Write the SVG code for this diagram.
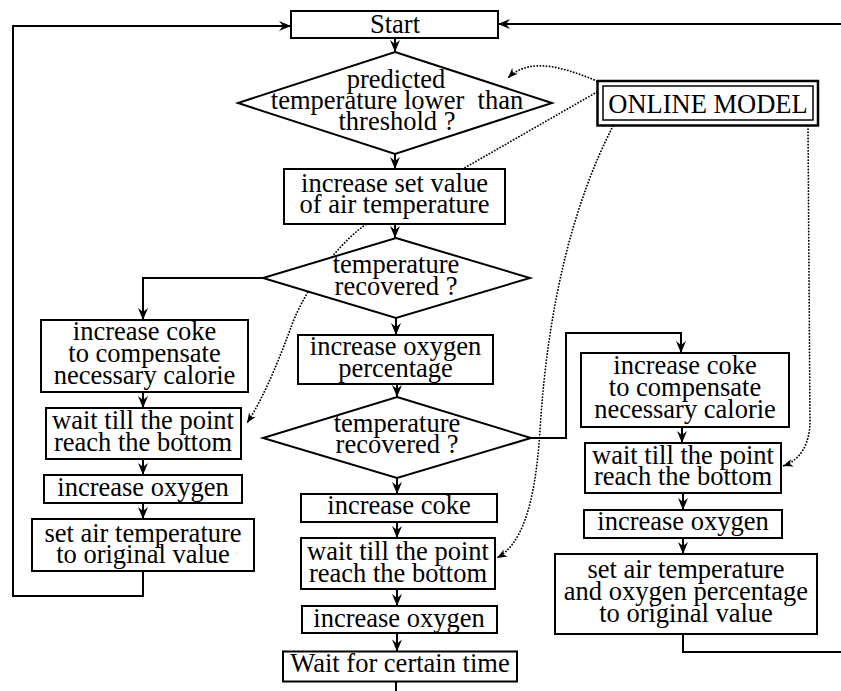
<svg xmlns="http://www.w3.org/2000/svg" width="841" height="691" viewBox="0 0 841 691">
<style>
.n{fill:#fff;stroke:#000;stroke-width:2}
.t{font-family:"Liberation Serif","Times New Roman",serif;font-size:26.5px;text-anchor:middle;fill:#000}
.c{fill:none;stroke:#000;stroke-width:2}
.d{fill:none;stroke:#000;stroke-width:1.8;stroke-dasharray:0.1 3;stroke-linecap:round}
</style>
<defs>
<marker id="a" markerUnits="userSpaceOnUse" markerWidth="13" markerHeight="11" refX="12" refY="5" orient="auto" overflow="visible">
<path d="M0,0 L12,5 L0,10 L4,5 z" fill="#000"/>
</marker>
<marker id="ad" markerUnits="userSpaceOnUse" markerWidth="11" markerHeight="9" refX="10" refY="4" orient="auto" overflow="visible">
<path d="M0,0 L10,4 L0,8 L3,4 z" fill="#000"/>
</marker>
</defs>
<g id="dotted-connectors">
<path class="d" d="M597,81 C565,68 530,56 508,78" marker-end="url(#ad)"/>
<path class="d" d="M597,92 L365,225 C330,250 300,300 290,330 C275,370 262,400 247,423" marker-end="url(#ad)"/>
<path class="d" d="M613,126 C575,200 548,300 540,430 C535,510 520,545 497,558" marker-end="url(#ad)"/>
<path class="d" d="M808,126 L810,420 C810,445 800,460 783,466" marker-end="url(#ad)"/>
</g>
<g id="connectors">
<path class="c" d="M143,571 V596 H13 V26 H291" marker-end="url(#a)"/>
<path class="c" d="M841,24 H498" marker-end="url(#a)"/>
<path class="c" d="M395,38 V52" marker-end="url(#a)"/>
<path class="c" d="M395,154 V169" marker-end="url(#a)"/>
<path class="c" d="M395,224 V238" marker-end="url(#a)"/>
<path class="c" d="M263,278 H143 V320" marker-end="url(#a)"/>
<path class="c" d="M396,318 V335" marker-end="url(#a)"/>
<path class="c" d="M397,384 V397" marker-end="url(#a)"/>
<path class="c" d="M531,438 H566 V333 H681 V353" marker-end="url(#a)"/>
<path class="c" d="M397,478 V494" marker-end="url(#a)"/>
<path class="c" d="M397,522 V538" marker-end="url(#a)"/>
<path class="c" d="M397,589 V606" marker-end="url(#a)"/>
<path class="c" d="M397,633 V651.5" marker-end="url(#a)"/>
<path class="c" d="M396,681.5 V691"/>
<path class="c" d="M143,392 V408" marker-end="url(#a)"/>
<path class="c" d="M143,459 V475" marker-end="url(#a)"/>
<path class="c" d="M143,503 V519" marker-end="url(#a)"/>
<path class="c" d="M682,427 V443" marker-end="url(#a)"/>
<path class="c" d="M683,493 V510" marker-end="url(#a)"/>
<path class="c" d="M683,538 V554" marker-end="url(#a)"/>
<path class="c" d="M683,634 V652 H841"/>
</g>
<g id="start"><rect class="n" x="291" y="11" width="207" height="27"/><text class="t" x="395" y="33">Start</text></g>
<g id="d1"><polygon class="n" points="395,52 552,103 395,154 238,103"/>
<text class="t" x="396" y="88">predicted</text>
<text class="t" x="397" y="109" xml:space="preserve">temperature lower  than</text>
<text class="t" x="397" y="130">threshold ?</text></g>
<g id="online"><rect x="597.5" y="81" width="220.5" height="44.5" fill="#fff" stroke="#000" stroke-width="2.5"/><rect x="603" y="86" width="210" height="34" fill="none" stroke="#000" stroke-width="1.5"/><text class="t" x="708" y="113">ONLINE MODEL</text></g>
<g id="b1"><rect class="n" x="284" y="169" width="221" height="55"/><text class="t" x="394.5" y="192">increase set value</text><text class="t" x="394.5" y="213">of air temperature</text></g>
<g id="d2"><polygon class="n" points="396,238 530,278 396,318 263,278"/><text class="t" x="396" y="273">temperature</text><text class="t" x="396" y="295">recovered ?</text></g>
<g id="l1"><rect class="n" x="41" y="320" width="207" height="72"/><text class="t" x="144.5" y="340">increase coke</text><text class="t" x="144.5" y="362">to compensate</text><text class="t" x="144.5" y="384">necessary calorie</text></g>
<g id="l2"><rect class="n" x="46" y="408" width="195" height="51"/><text class="t" x="143" y="429">wait till the point</text><text class="t" x="143" y="451">reach the bottom</text></g>
<g id="l3"><rect class="n" x="44" y="475" width="198" height="28"/><text class="t" x="143" y="496">increase oxygen</text></g>
<g id="l4"><rect class="n" x="32" y="519" width="222" height="52"/><text class="t" x="143" y="541.5">set air temperature</text><text class="t" x="143" y="563">to original value</text></g>
<g id="m1"><rect class="n" x="298" y="335" width="195" height="49"/><text class="t" x="395.5" y="355">increase oxygen</text><text class="t" x="395.5" y="376.5">percentage</text></g>
<g id="d3"><polygon class="n" points="397,397 531,438 397,478 263,438"/><text class="t" x="397" y="432">temperature</text><text class="t" x="397" y="453">recovered ?</text></g>
<g id="m2"><rect class="n" x="301" y="494" width="196" height="28"/><text class="t" x="399" y="514">increase coke</text></g>
<g id="m3"><rect class="n" x="301" y="538" width="194" height="51"/><text class="t" x="398" y="560">wait till the point</text><text class="t" x="398" y="581.5">reach the bottom</text></g>
<g id="m4"><rect class="n" x="302" y="606" width="195" height="27"/><text class="t" x="399" y="626.5">increase oxygen</text></g>
<g id="m5"><rect class="n" x="283" y="651.5" width="234" height="30"/><text class="t" x="400" y="671.5">Wait for certain time</text></g>
<g id="r1"><rect class="n" x="581" y="353" width="208" height="74"/><text class="t" x="685" y="374">increase coke</text><text class="t" x="685" y="396">to compensate</text><text class="t" x="685" y="418">necessary calorie</text></g>
<g id="r2"><rect class="n" x="585" y="443" width="196" height="50"/><text class="t" x="683" y="463.5">wait till the point</text><text class="t" x="683" y="485">reach the bottom</text></g>
<g id="r3"><rect class="n" x="584" y="510" width="198" height="28"/><text class="t" x="683" y="530">increase oxygen</text></g>
<g id="r4"><rect class="n" x="555" y="554" width="262" height="80"/><text class="t" x="686" y="578">set air temperature</text><text class="t" x="686" y="600">and oxygen percentage</text><text class="t" x="686" y="621.5">to original value</text></g>
</svg>
